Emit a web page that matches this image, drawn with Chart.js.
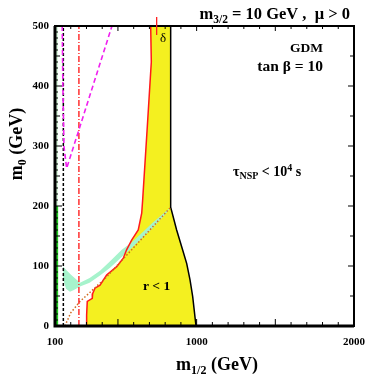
<!DOCTYPE html>
<html>
<head>
<meta charset="utf-8">
<script src="https://cdn.jsdelivr.net/npm/chart.js@4.4.0/dist/chart.umd.min.js"></script>
<style>
  html, body { margin: 0; padding: 0; background: #fff; }
  canvas { display: block; }
</style>
</head>
<body>
<canvas id="chart" width="367" height="382"></canvas>
<script>
// valeurs : m1/2 (GeV) en x, m0 (GeV) en y
const xLabels = [100, 1000, 2000]
const yLabels = [0, 100, 200, 300, 400, 500]

// bord gauche (rouge) de la zone jaune, du haut vers le bas
const redM12 = [708, 712, 686, 657, 651, 629, 587, 555, 534, 492, 428, 386, 354, 339, 337, 305, 301, 301]
const redM0 = [500, 440, 330, 210, 188, 160, 143, 127, 113, 99, 85, 68, 63, 54, 46, 41, 18, 0]

// bord droit (noir) de la zone jaune
const blackM12 = [835, 835, 835, 873, 905, 937, 958, 975, 996]
const blackM0 = [500, 300, 198, 160, 132, 104, 77, 49, 0]

// bande vert clair : bord haut puis bord bas (retour)
const bandTopM12 = [151, 165, 200, 259, 320, 386, 450, 524, 580, 640, 720, 800, 835]
const bandTopM0 = [99, 95, 86, 72, 80, 92, 108, 127, 138, 152, 172, 190, 198]
const bandLowM12 = [800, 720, 640, 580, 524, 450, 386, 320, 259, 220, 195, 170, 155, 151]
const bandLowM0 = [186, 163, 143, 128, 115, 97, 84, 72, 66, 60, 57, 62, 75, 88]

// ligne pointillée orange
const dotM12 = [163, 200, 259, 418, 587, 835]
const dotM0 = [0, 22, 41, 79, 127, 198]

// courbe magenta en V
const magM12 = [146, 150, 157, 174, 252, 462]
const magM0 = [500, 400, 299, 263, 327, 500]

// lignes verticales
const greenM12 = 113
const greenTop = 200
const blackDashM12 = 153
const redDashM12 = 252

// marqueur rouge en haut
const starM12 = 746
const starM0 = 500

const pts = (xs, ys) => xs.map((x, i) => ({ x: x, y: ys[i] }))
const vline = (x, y0, y1) => [{ x: x, y: y0 }, { x: x, y: y1 }]

const yellowShape = pts(redM12, redM0).concat([{ x: 996, y: 0 }]).concat(pts(blackM12, blackM0).reverse())
const bandShape = pts(bandTopM12, bandTopM0).concat(pts(bandLowM12, bandLowM0))

const serif = '"Liberation Serif", "Times New Roman", serif'

function runs(ctx, parts, x, y, align) {
      let w = 0
      parts.forEach(p => {
            ctx.font = 'bold ' + p[1] + 'px ' + serif
            w += ctx.measureText(p[0]).width
      })
      let cx = align === 'right' ? x - w : align === 'center' ? x - w / 2 : x
      parts.forEach(p => {
            ctx.font = 'bold ' + p[1] + 'px ' + serif
            ctx.fillText(p[0], cx, y + (p[2] || 0))
            cx += ctx.measureText(p[0]).width
      })
}

function drawFrame(chart) {
      const ctx = chart.ctx
      const a = chart.chartArea
      const xs = chart.scales.x
      const ys = chart.scales.y
      ctx.save()
      ctx.strokeStyle = '#000'
      // petites graduations vers l'intérieur
      ctx.lineWidth = 1
      ctx.beginPath()
      ys.ticks.forEach(t => {
            const py = ys.getPixelForValue(t.value)
            const l = t.value % 100 === 0 ? 7 : t.value % 50 === 0 ? 5 : 3
            ctx.moveTo(a.left, py); ctx.lineTo(a.left + l, py)
            if (t.value % 50 === 0) {
                  const r = t.value % 100 === 0 ? 6 : 4
                  ctx.moveTo(a.right, py); ctx.lineTo(a.right - r, py)
            }
      })
      xs.ticks.forEach(t => {
            const px = xs.getPixelForValue(t.value)
            const l = t.value % 500 === 0 ? 7 : 4
            ctx.moveTo(px, a.bottom); ctx.lineTo(px, a.bottom - l)
            ctx.moveTo(px, a.top); ctx.lineTo(px, a.top + (t.value % 500 === 0 ? 5 : 3))
      })
      ctx.stroke()
      // cadre
      ctx.lineWidth = 2
      ctx.strokeRect(a.left, a.top, a.right - a.left, a.bottom - a.top)
      ctx.lineWidth = 3
      ctx.beginPath()
      ctx.moveTo(a.left, a.top); ctx.lineTo(a.left, a.bottom); ctx.lineTo(a.right, a.bottom)
      ctx.stroke()
      ctx.restore()
}

const decor = {
      id: 'decor',
      afterDatasetDraw(chart, args) {
            // le cadre passe sous le marqueur rouge (dataset 0, dessiné en dernier)
            if (args.index === 1) drawFrame(chart)
      },
      afterDatasetsDraw(chart) {
            const ctx = chart.ctx
            ctx.save()
            ctx.fillStyle = '#000'
            ctx.textBaseline = 'alphabetic'
            runs(ctx, [['m', 16.5], ['3/2', 11.5, 4], [' = 10 GeV ,  \u03bc > 0', 16.5]], 350, 19, 'right')
            runs(ctx, [['GDM', 13.5]], 323, 52, 'right')
            runs(ctx, [['tan \u03b2 = 10', 15.5]], 323, 71, 'right')
            runs(ctx, [['\u03c4', 14], ['NSP', 10, 3], [' < 10', 14], ['4', 10, -5], [' s', 14]], 233, 176, 'left')
            runs(ctx, [['r < 1', 13.5]], 143, 290, 'left')
            ctx.font = '13px ' + serif
            ctx.textAlign = 'center'
            ctx.fillText('\u03b4', 163, 42)
            ctx.textAlign = 'left'
            runs(ctx, [['m', 18], ['1/2', 12, 4], [' (GeV)', 18]], 217, 370, 'center')
            ctx.translate(22, 144)
            ctx.rotate(-Math.PI / 2)
            runs(ctx, [['m', 18], ['0', 12, 4], [' (GeV)', 18]], 0, 0, 'center')
            ctx.restore()
      }
}

const line = (data, color, width, dash, extra) => Object.assign({
      data: data, showLine: true, borderColor: color, borderWidth: width,
      borderDash: dash || [], pointRadius: 0, fill: false, tension: 0
}, extra || {})

new Chart(document.getElementById('chart'), {
      type: 'scatter',
      data: {
            datasets: [
                  line([{ x: starM12, y: starM0 }], '#ff2020', 1.2, null, { showLine: false, pointRadius: 9, pointStyle: 'line', rotation: 90, pointBorderColor: '#ff2020', pointBorderWidth: 1.3, clip: false }),
                  line(pts(magM12, magM0), '#f020f0', 1.6, [5, 3]),
                  line(vline(redDashM12, 0, 500), '#ff1010', 1.3, [6, 2, 1, 2]),
                  line(vline(blackDashM12, 0, 500), '#000', 1.5, [3, 2]),
                  line(vline(greenM12, 0, greenTop), '#22cc22', 2.2),
                  line(vline(greenM12, greenTop, 500), '#b8f0c0', 1),
                  line(pts(dotM12, dotM0), '#d2691e', 1.5, [1.5, 2]),
                  line(pts(redM12, redM0), '#ff1a1a', 1.5),
                  line(pts(blackM12, blackM0), '#000', 1.5),
                  line(bandShape, 'rgba(0,0,0,0)', 0, null, { fill: 'shape', backgroundColor: '#a6f3cc' }),
                  line(yellowShape, 'rgba(0,0,0,0)', 0, null, { fill: 'shape', backgroundColor: '#f4f020' })
            ]
      },
      options: {
            responsive: false,
            animation: false,
            events: [],
            devicePixelRatio: 1,
            layout: { padding: { left: 0, top: 26, right: 13, bottom: 0 } },
            plugins: { legend: { display: false }, tooltip: { enabled: false } },
            scales: {
                  x: {
                        type: 'linear', min: 100, max: 2000,
                        grid: { display: false, drawTicks: false },
                        border: { display: false },
                        ticks: {
                              stepSize: 100, autoSkip: false, maxRotation: 0, padding: 10, color: '#000',
                              font: { family: serif, weight: 'bold', size: 11 },
                              callback: v => xLabels.includes(v) ? String(v) : ''
                        },
                        afterFit: s => { s.height = 56; s.paddingLeft = 0; s.paddingRight = 0 }
                  },
                  y: {
                        type: 'linear', min: 0, max: 500,
                        grid: { display: false, drawTicks: false },
                        border: { display: false },
                        ticks: {
                              stepSize: 10, autoSkip: false, padding: 6, color: '#000',
                              font: { family: serif, weight: 'bold', size: 11 },
                              callback: v => yLabels.includes(v) ? String(v) : ''
                        },
                        afterFit: s => { s.width = 55; s.paddingTop = 0; s.paddingBottom = 0 }
                  }
            }
      },
      plugins: [decor]
})
</script>
</body>
</html>
